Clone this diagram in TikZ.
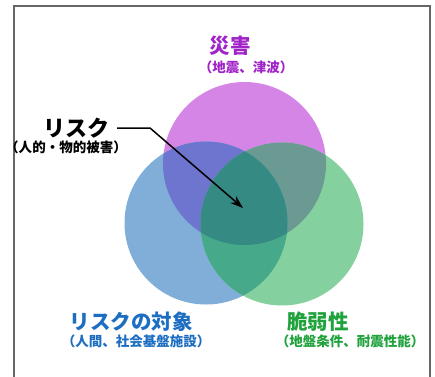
\documentclass[tikz,border=0pt]{standalone}
\usepackage{fontspec}
\setmainfont{Noto Sans CJK JP}[BoldFont={Noto Sans CJK JP Black}]
\usetikzlibrary{arrows.meta}

\definecolor{haz}{HTML}{D585E6}
\definecolor{obj}{HTML}{80AED9}
\definecolor{vul}{HTML}{84D19F}
\definecolor{hazobj}{HTML}{6E75CF}
\definecolor{hazvul}{HTML}{6A9A92}
\definecolor{objvul}{HTML}{46A98A}
\definecolor{allthree}{HTML}{368A84}
\definecolor{hazText}{HTML}{A124C8}
\definecolor{objText}{HTML}{1D6EC2}
\definecolor{vulText}{HTML}{20A23C}

\tikzset{
  title/.style={font=\bfseries\fontsize{20.5}{22}\selectfont,inner sep=0pt},
  sub/.style={font=\bfseries\fontsize{13.5}{15}\selectfont,inner sep=0pt},
}

\begin{document}
\begin{tikzpicture}[x=1pt,y=-1pt]
    \useasboundingbox (0,0) rectangle (435,376);
    \fill[white] (0,0) rectangle (435,376);
    % frame
    \draw[line width=1.5pt,black!60] (14,380) -- (14,6) -- (430,6) -- (430,380);

    % circles
    \coordinate (H) at (244.5,163.5);
    \coordinate (O) at (206,223);
    \coordinate (V) at (282,224);
	\fill[haz] (H) circle (81.5);
	\fill[obj] (O) circle (81.5);
	\fill[vul] (V) circle (81.5);
    \begin{scope}
	\clip (H) circle (81.5);
	\fill[hazobj] (O) circle (81.5);
    \end{scope}
    \begin{scope}
	\clip (H) circle (81.5);
	\fill[hazvul] (V) circle (81.5);
    \end{scope}
    \begin{scope}
	\clip (O) circle (81.5);
	\fill[objvul] (V) circle (81.5);
    \end{scope}
    \begin{scope}
	\clip (H) circle (81.5);
	\clip (O) circle (81.5);
	\fill[allthree] (V) circle (81.5);
    \end{scope}

    % labels
    \node[title,text=hazText] (hazard) at (230,46) {災害};
    \node[sub,text=hazText] (hazardSub) at (246,67) {（地震、津波）};
    \node[title,font=\bfseries\fontsize{22}{24}\selectfont] (risk) at (76,128) {リスク};
    \node[sub] (riskSub) at (66,147) {（人的・物的被害）};
    \node[title,text=objText] (object) at (131,322) {リスクの対象};
    \node[sub,text=objText] (objectSub) at (136,341) {（人間、社会基盤施設）};
    \node[title,text=vulText] (vuln) at (318,322) {脆弱性};
    \node[sub,text=vulText] (vulnSub) at (350,341) {（地盤条件、耐震性能）};

    % arrow
    \coordinate (bend) at (150,128);
    \coordinate (centre) at (243,208);
	\draw[line width=1.5pt,-{Stealth[length=13pt,width=9pt]}] ([xshift=8pt]risk.east) -- (bend) -- (centre);
\end{tikzpicture}
\end{document}
